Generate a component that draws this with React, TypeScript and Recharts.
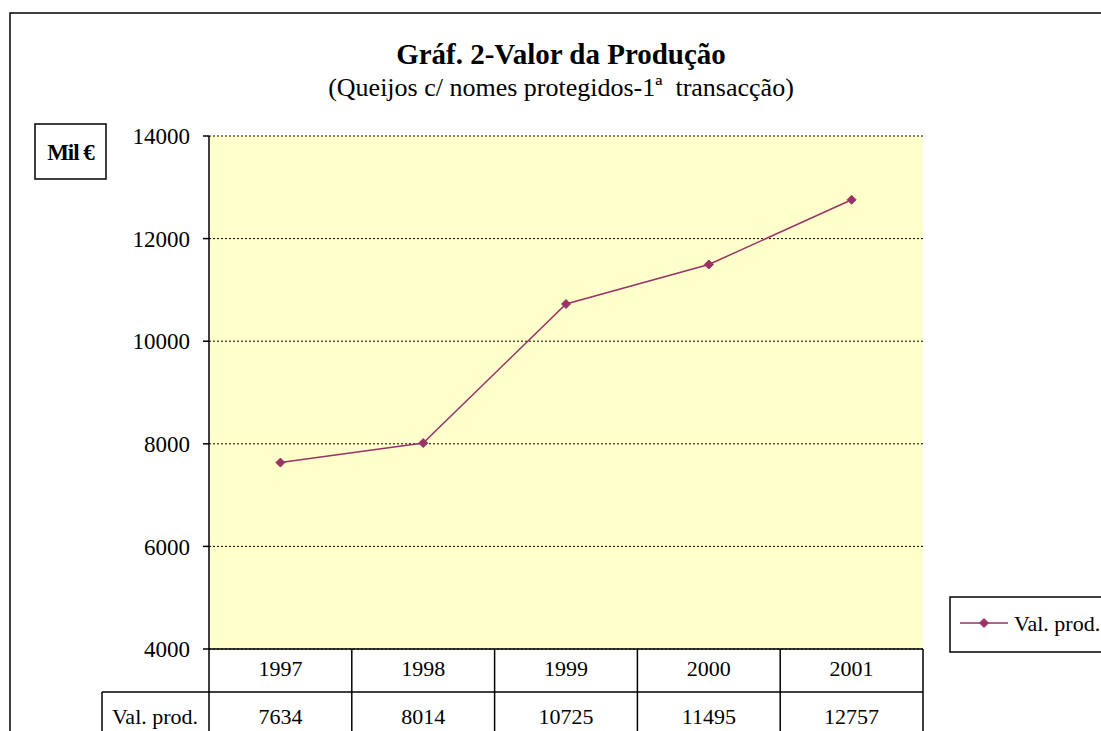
import { CartesianGrid, Line, LineChart, XAxis, YAxis } from "recharts";

const YEARS = ["1997", "1998", "1999", "2000", "2001"];
const VAL_PROD = [7634, 8014, 10725, 11495, 12757];
const Y_TICKS = [4000, 6000, 8000, 10000, 12000, 14000];
const SERIES_NAME = "Val. prod.";
const TITLE = "Gráf. 2-Valor da Produção";
const SUBTITLE = "(Queijos c/ nomes protegidos-1ª  transacção)";
const UNIT = "Mil €";

const W = 1101;
const H = 731;
const PLOT_L = 209;
const PLOT_R = 923;
const PLOT_T = 136;
const PLOT_B = 649;
const HALF = (PLOT_R - PLOT_L) / YEARS.length / 2;
const ROW_Y = 692;
const FONT = '"Liberation Serif", "Times New Roman", serif';
const PLUM = "#993366";
const TXT = 22;

const data = YEARS.map((year, i) => ({ year, val: VAL_PROD[i] }));

function Diamond({ cx, cy, r = 4.5 }: { cx: number; cy: number; r?: number }) {
  return (
    <path
      d={`M${cx},${cy - r} L${cx + r},${cy} L${cx},${cy + r} L${cx - r},${cy} Z`}
      fill={PLUM}
      stroke={PLUM}
    />
  );
}

// data table under the axis: year row + value row
function TableTick(props: any) {
  const { x, payload } = props;
  const i = YEARS.indexOf(payload.value);
  const left = x - HALF;
  const right = x + HALF;
  return (
    <g>
      {i === 0 && (
        <>
          <line x1={left} y1={PLOT_B} x2={left} y2={H} stroke="#000" strokeWidth={1.5} />
          <line x1={102} y1={ROW_Y} x2={left} y2={ROW_Y} stroke="#000" strokeWidth={1.5} />
          <line x1={102} y1={ROW_Y} x2={102} y2={H} stroke="#000" strokeWidth={1.5} />
          <text x={155} y={716} textAnchor="middle" dominantBaseline="central" fontSize={TXT} fontFamily={FONT} fill="#000">
            {SERIES_NAME}
          </text>
        </>
      )}
      <line x1={right} y1={PLOT_B} x2={right} y2={H} stroke="#000" strokeWidth={1.5} />
      <line x1={left} y1={ROW_Y} x2={right} y2={ROW_Y} stroke="#000" strokeWidth={1.5} />
      <text x={x} y={668} textAnchor="middle" dominantBaseline="central" fontSize={TXT} fontFamily={FONT} fill="#000">
        {payload.value}
      </text>
      <text x={x} y={716} textAnchor="middle" dominantBaseline="central" fontSize={TXT} fontFamily={FONT} fill="#000">
        {VAL_PROD[i]}
      </text>
    </g>
  );
}

export default function App() {
  return (
    <div
      style={{
        position: "absolute",
        left: 0,
        top: 0,
        width: W,
        height: H,
        overflow: "hidden",
        background: "#fff",
        fontFamily: FONT,
      }}
    >
      <div style={{ position: "absolute", left: 0, top: 0 }}>
        <LineChart
          width={W}
          height={H}
          data={data}
          margin={{ top: PLOT_T, right: W - PLOT_R, bottom: 0, left: 0 }}
        >
          <CartesianGrid
            vertical={false}
            stroke="#000"
            strokeDasharray="2 2"
            fill="#FFFFCC"
            fillOpacity={1}
          />
          <XAxis
            dataKey="year"
            height={H - PLOT_B}
            padding={{ left: HALF, right: HALF }}
            interval={0}
            tickLine={false}
            axisLine={{ stroke: "#000", strokeWidth: 1.5 }}
            tick={<TableTick />}
          />
          <YAxis
            width={PLOT_L}
            domain={[4000, 14000]}
            ticks={Y_TICKS}
            allowDataOverflow
            tickSize={6}
            tickMargin={13}
            axisLine={{ stroke: "#000", strokeWidth: 1.5 }}
            tickLine={{ stroke: "#000", strokeWidth: 1.5 }}
            tick={{ fill: "#000", fontSize: 23, fontFamily: FONT }}
          />
          <Line
            type="linear"
            dataKey="val"
            name={SERIES_NAME}
            stroke={PLUM}
            strokeWidth={1.5}
            dot={(p: any) => <Diamond key={p.index} cx={p.cx} cy={p.cy} />}
            activeDot={false}
            isAnimationActive={false}
          />
        </LineChart>
      </div>

      {/* frame, titles, unit box, legend */}
      <svg
        width={W}
        height={H}
        style={{ position: "absolute", left: 0, top: 0, pointerEvents: "none" }}
        fontFamily={FONT}
      >
        <rect x={10} y={13} width={1200} height={800} fill="none" stroke="#000" strokeWidth={1.5} />
        <text x={561} y={64} textAnchor="middle" fontSize={29} fontWeight="bold" fill="#000">
          {TITLE}
        </text>
        <text x={561} y={96} textAnchor="middle" fontSize={26} fill="#000" style={{ whiteSpace: "pre" }}>
          {SUBTITLE}
        </text>
        <rect x={35} y={124} width={71} height={55} fill="#fff" stroke="#000" strokeWidth={1.5} />
        <text
          x={70.5}
          y={152}
          textAnchor="middle"
          dominantBaseline="central"
          fontSize={23}
          fontWeight="bold"
          letterSpacing={-1}
          fill="#000"
        >
          {UNIT}
        </text>
        <rect x={950} y={597} width={200} height={55} fill="#fff" stroke="#000" strokeWidth={1.5} />
        <line x1={960} y1={623} x2={1008} y2={623} stroke={PLUM} strokeWidth={1.5} />
        <Diamond cx={984} cy={623} r={4.5} />
        <text x={1014} y={623} dominantBaseline="central" fontSize={TXT} fill="#000">
          {SERIES_NAME}
        </text>
      </svg>
    </div>
  );
}
